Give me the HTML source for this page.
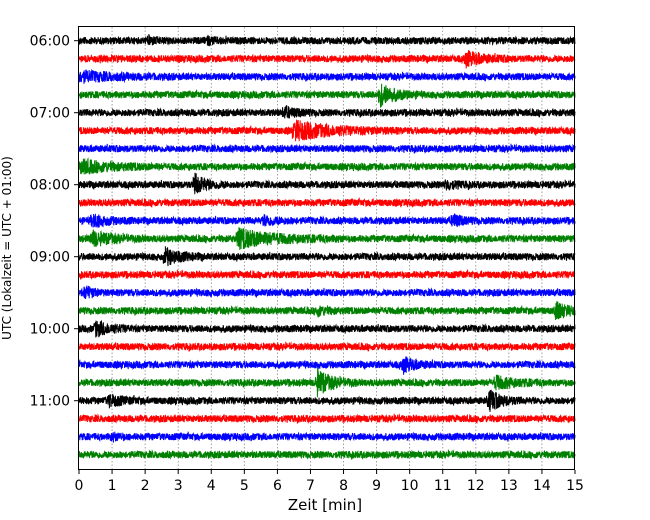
<!DOCTYPE html>
<html><head><meta charset="utf-8"><style>
html,body{margin:0;padding:0;background:#fff;}
svg{display:block;font-family:"DejaVu Sans","Liberation Sans",sans-serif;}
</style></head><body>
<svg id="chart" width="650" height="520">
<g id="grid"></g>
<g id="traces"></g>
<rect x="78.5" y="26.5" width="496" height="443" fill="none" stroke="#000" stroke-width="1"/>
<g id="xaxis"></g>
<g id="yaxis"></g>
<text x="325" y="510" text-anchor="middle" font-size="15">Zeit  [min]</text>
<text transform="translate(11,248) rotate(-90)" text-anchor="middle" font-size="12">UTC (Lokalzeit = UTC + 01:00)</text>
</svg>
<script>
// data
const xTicks = [0,1,2,3,4,5,6,7,8,9,10,11,12,13,14,15];
const hourLabels = ["06:00","07:00","08:00","09:00","10:00","11:00"];
const rowColors = ["#000000","#ff0000","#0000ff","#008000"];
const rowCount = 24;
// events: row index, start minute, amplitude (relative), duration (min)
const eventRows = [0,0,1,2,3,4,5,7,8,8,10,10,10,11,11,12,14,15,15,16,18,19,19,20,20,22];
const eventTimes = [2.1,3.9,11.7,0.05,9.1,6.2,6.5,0.05,3.5,11.1,0.4,5.6,11.3,0.4,4.8,2.6,0.2,7.2,14.4,0.5,9.8,7.2,12.6,0.9,12.4,1.0];
const eventAmps = [1.0,0.8,2.0,1.3,3.2,1.4,2.6,1.8,2.8,1.2,1.7,1.3,1.7,2.0,2.6,2.3,1.8,1.2,2.3,2.0,2.1,3.6,1.7,1.5,3.0,0.9];
const eventDurs = [0.3,0.3,0.7,1.4,0.6,0.5,1.6,1.2,0.5,0.4,0.6,0.5,0.4,0.8,1.6,0.6,0.3,0.4,0.5,0.6,0.5,0.6,0.8,0.6,0.5,0.3];

const NS="http://www.w3.org/2000/svg";
const x0=79, x1=575, yTop=40.7, dy=18;
const xs = m => x0 + (x1-x0)*m/15;
const ys = r => yTop + r*dy;
function mk(t,a,p){const e=document.createElementNS(NS,t);for(const k in a)e.setAttribute(k,a[k]);p.appendChild(e);return e;}
const grid=document.getElementById('grid'), xa=document.getElementById('xaxis'), ya=document.getElementById('yaxis'), tr=document.getElementById('traces');
xTicks.forEach(t=>{
  const x=xs(t);
  if(t>0&&t<15){const l=mk('line',{x1:x,x2:x,y1:27,y2:469,stroke:'#888','stroke-width':0.8,'stroke-dasharray':'1.5,2'},grid);
    
    }
  const tk=mk('line',{x1:x,x2:x,y1:470,y2:474,stroke:'#000'},xa);
  
  
  const tx=mk('text',{x:x,y:490,'text-anchor':'middle','font-size':14},xa);tx.textContent=t;
  
  
});
hourLabels.forEach((h,i)=>{
  const y=ys(i*4);
  const tk=mk('line',{x1:74,x2:78,y1:y,y2:y,stroke:'#000'},ya);
  
  
  const tx=mk('text',{x:70,y:y+5,'text-anchor':'end','font-size':14},ya);tx.textContent=h;
  
  
});
// deterministic texture generator for background noise
let seed=12345;function rnd(){seed=(seed*1103515245+12345)&0x7fffffff;return seed/0x7fffffff;}
const step=0.2;
for(let r=0;r<rowCount;r++){
  const yc=ys(r);let pts=[];
  for(let x=x0;x<=x1;x+=step){
    const m=(x-x0)/(x1-x0)*15;
    let amp=3.6+ (rnd()<0.01?1.5:0);
    for(let e=0;e<eventRows.length;e++){
      if(eventRows[e]!==r)continue;
      const dt=m-eventTimes[e];
      if(dt>-0.05&&dt<eventDurs[e]*2){
        const env=dt<0?0.5:Math.exp(-dt/eventDurs[e]*1.5);
        amp+=eventAmps[e]*3.2*env;
      }
    }
    const v=(rnd()*2-1)*amp;
    pts.push(x.toFixed(2)+','+(yc+v).toFixed(1));
  }
  const p=mk('polyline',{points:pts.join(' '),fill:'none',stroke:rowColors[r%4],'stroke-width':1},tr);
  
  
}
</script>
</body></html>
